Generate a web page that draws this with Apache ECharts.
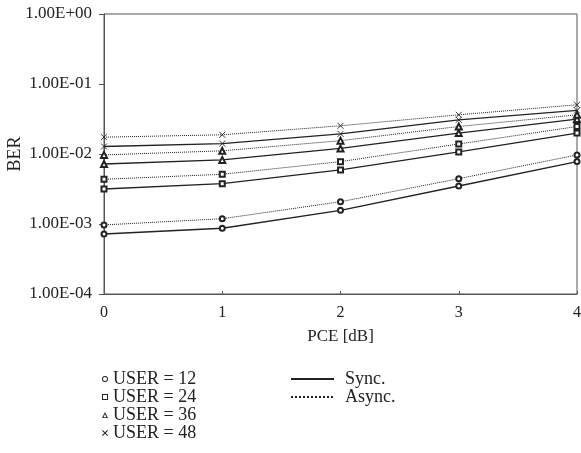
<!DOCTYPE html>
<html>
<head>
<meta charset="utf-8">
<script src="https://cdn.jsdelivr.net/npm/echarts@6/dist/echarts.min.js"></script>
<style>
  html, body { margin: 0; padding: 0; background: #fff; }
  #main { width: 581px; height: 453px; }
</style>
</head>
<body>
<div id="main"></div>
<script>
// PCE in dB
let pce = [0, 1, 2, 3, 4];

// BER, per user count
let user12Sync = [0.00072, 0.00087, 0.00157, 0.00349, 0.0078];
let user12Async = [0.00097, 0.00119, 0.00208, 0.00444, 0.0097];
let user24Sync = [0.00316, 0.00377, 0.00592, 0.0107, 0.0199];
let user24Async = [0.00435, 0.00513, 0.00778, 0.0139, 0.0247];
let user36Sync = [0.0072, 0.00823, 0.0120, 0.0199, 0.0315];
let user36Async = [0.0097, 0.0111, 0.0155, 0.0247, 0.0363];
let user48Sync = [0.0128, 0.0141, 0.0194, 0.0308, 0.0419];
let user48Async = [0.0174, 0.0188, 0.0253, 0.0363, 0.0505];

let userLabels = ["USER = 12", "USER = 24", "USER = 36", "USER = 48"];
let modeLabels = ["Sync.", "Async."];

let ink = "#222";
let font = "Liberation Serif";
let crossPath = "path://M0,0L10,10M10,0L0,10";
let symbols = ["emptyCircle", "emptyRect", "emptyTriangle", crossPath];
let symbolSizes = [5, 5, 6, 6];
// legend glyphs (outline only)
let legendIcons = [
    "path://M5,0A5,5 0 1 1 4.99,0Z M5,1.6A3.4,3.4 0 1 0 5.01,1.6Z",
    "path://M0,0H10V10H0Z M1.6,1.6V8.4H8.4V1.6Z",
    "path://M5,0L10,10H0Z M5,3.4L2.5,8.6H7.5Z",
    "path://M0,1.2L1.2,0L5,3.8L8.8,0L10,1.2L6.2,5L10,8.8L8.8,10L5,6.2L1.2,10L0,8.8L3.8,5Z"
];

function pairs(values) {
    return pce.map((x, i) => [x, values[i]]);
}

function curve(name, values, k, dotted) {
    return {
        name: name,
        type: "line",
        data: pairs(values),
        symbol: symbols[k],
        symbolSize: symbolSizes[k],
        showSymbol: true,
        silent: true,
        itemStyle: { color: ink, borderColor: ink, borderWidth: 0.9 },
        lineStyle: { color: ink, width: dotted ? 1 : 1.3, type: dotted ? "dotted" : "solid" },
        z: 3
    };
}

// legend-only series (no data)
function legendSeries(name, dotted) {
    return {
        name: name,
        type: "line",
        data: [],
        symbol: "circle",
        itemStyle: { color: ink },
        lineStyle: { color: ink, width: 1, type: dotted ? "dotted" : "solid" }
    };
}

function fmtExp(v) {
    let e = Math.round(Math.log10(v));
    let sign = e < 0 ? "-" : "+";
    let a = Math.abs(e);
    return "1.00E" + sign + (a < 10 ? "0" + a : a);
}

let myChart = echarts.init(document.getElementById("main"));

let series = [
    curve("USER = 12", user12Sync, 0, false),
    curve("a12", user12Async, 0, true),
    curve("USER = 24", user24Sync, 1, false),
    curve("a24", user24Async, 1, true),
    curve("USER = 36", user36Sync, 2, false),
    curve("a36", user36Async, 2, true),
    curve("USER = 48", user48Sync, 3, false),
    curve("a48", user48Async, 3, true),
    legendSeries(modeLabels[0], false),
    legendSeries(modeLabels[1], true)
];

let option = {
    animation: false,
    backgroundColor: "#fff",
    textStyle: { fontFamily: font, color: ink },
    grid: {
        left: 104,
        right: 4,
        top: 14,
        bottom: 159,
        containLabel: false,
        outerBoundsMode: "none",
        show: true,
        borderColor: "#555",
        borderWidth: 1
    },
    legend: [
        {
            orient: "vertical",
            left: 102,
            top: 370,
            height: 200,
            padding: 0,
            itemWidth: 6,
            itemHeight: 6,
            itemGap: 0,
            selectedMode: false,
            textStyle: { fontFamily: font, fontSize: 18, lineHeight: 14, color: ink },
            data: userLabels.map((n, k) => ({
                name: n,
                icon: legendIcons[k],
                itemStyle: { color: ink, borderWidth: 0 }
            }))
        },
        {
            orient: "vertical",
            left: 290,
            top: 370,
            height: 200,
            padding: 0,
            itemWidth: 43,
            itemHeight: 14,
            itemGap: 0,
            selectedMode: false,
            textStyle: { fontFamily: font, fontSize: 18, lineHeight: 14, color: ink, padding: [0, 0, 0, 6] },
            data: modeLabels.map((n) => ({ name: n, itemStyle: { opacity: 0 } }))
        }
    ],
    xAxis: {
        type: "value",
        min: 0,
        max: 4,
        interval: 1,
        name: "PCE [dB]",
        nameLocation: "middle",
        nameGap: 34,
        nameTextStyle: { fontFamily: font, fontSize: 17, color: ink },
        axisLine: { lineStyle: { color: "#555" } },
        axisTick: { inside: true, length: 3, lineStyle: { color: "#555" } },
        axisLabel: { fontFamily: font, fontSize: 16, color: ink, margin: 11 },
        splitLine: { show: false }
    },
    yAxis: {
        type: "log",
        logBase: 10,
        min: 0.0001,
        max: 1,
        name: "BER",
        nameLocation: "middle",
        nameRotate: 90,
        nameGap: 80,
        nameMoveOverlap: false,
        nameTextStyle: { fontFamily: font, fontSize: 18, color: ink },
        axisLine: { show: true, lineStyle: { color: "#555" } },
        axisTick: { show: true, length: 5, lineStyle: { color: "#555" } },
        minorTick: { show: false },
        axisLabel: { fontFamily: font, fontSize: 17, color: ink, margin: 12, formatter: fmtExp },
        splitLine: { show: false }
    },
    series: series
};

myChart.setOption(option);
</script>
</body>
</html>
